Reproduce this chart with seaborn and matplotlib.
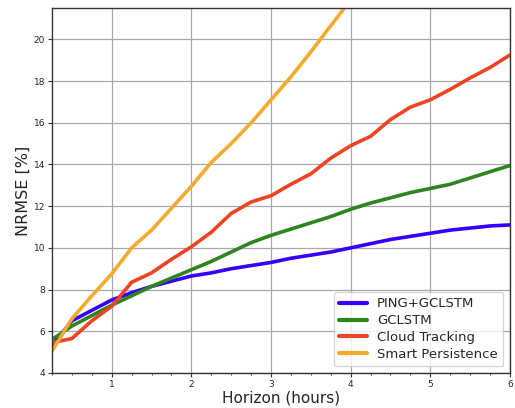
import matplotlib
matplotlib.use("Agg")
import matplotlib.pyplot as plt
from matplotlib.ticker import MultipleLocator
import seaborn as sns
import pandas as pd

horizon = [0.25, 0.5, 0.75, 1.0, 1.25, 1.5, 1.75, 2.0, 2.25, 2.5, 2.75, 3.0,
           3.25, 3.5, 3.75, 4.0, 4.25, 4.5, 4.75, 5.0, 5.25, 5.5, 5.75, 6.0]

ping_gclstm = [5.3, 6.5, 7.0, 7.5, 7.85, 8.15, 8.4, 8.65, 8.8, 9.0, 9.15, 9.3,
               9.5, 9.65, 9.8, 10.0, 10.2, 10.4, 10.55, 10.7, 10.85, 10.95, 11.05, 11.1]
gclstm = [5.6, 6.25, 6.75, 7.25, 7.7, 8.15, 8.55, 8.95, 9.35, 9.8, 10.25, 10.6,
          10.9, 11.2, 11.5, 11.85, 12.15, 12.4, 12.65, 12.85, 13.05, 13.35, 13.65, 13.95]
cloud_tracking = [5.45, 5.65, 6.5, 7.2, 8.35, 8.8, 9.45, 10.05, 10.75, 11.65, 12.2, 12.5,
                  13.05, 13.55, 14.3, 14.9, 15.35, 16.15, 16.75, 17.1, 17.6, 18.15, 18.65, 19.25]
smart_persistence = [5.05, 6.6, 7.7, 8.75, 10.0, 10.85, 11.9, 12.95, 14.1, 15.0, 16.0, 17.1,
                     18.2, 19.4, 20.65, 21.9]

models = ["PING+GCLSTM", "GCLSTM", "Cloud Tracking", "Smart Persistence"]
series = [ping_gclstm, gclstm, cloud_tracking, smart_persistence]
colors = ["#3300ff", "#2e8520", "#ec4425", "#f2ab2c"]

rows = []
for name, vals in zip(models, series):
    for h, v in zip(horizon, vals):
        rows.append({"Horizon": h, "NRMSE": v, "model": name})
df = pd.DataFrame(rows)

sns.set_style("white")
fig = plt.figure(figsize=(5.15, 4.08), dpi=100)
ax = fig.add_axes([0.101, 0.086, 0.889, 0.894])

sns.lineplot(data=df, x="Horizon", y="NRMSE", hue="model", hue_order=models,
             palette=colors, linewidth=2.6, ax=ax)

ax.set_xlim(0.25, 6)
ax.set_ylim(4, 21.5)
ax.set_xticks([1, 2, 3, 4, 5, 6])
ax.set_yticks([4, 6, 8, 10, 12, 14, 16, 18, 20])
ax.xaxis.set_minor_locator(MultipleLocator(0.25))
ax.tick_params(axis="both", which="major", labelsize=6.5, length=3, pad=2,
               color="#333333", direction="out", bottom=True, left=True)
ax.tick_params(axis="x", which="minor", length=1.5, bottom=True)
ax.grid(True, which="major", color="#a8a8a8", linewidth=0.9)
for s in ax.spines.values():
    s.set_color("#333333")
    s.set_linewidth(1.0)

ax.set_xlabel("Horizon (hours)", fontsize=11, labelpad=1)
ax.set_ylabel("NRMSE [%]", fontsize=11.5, labelpad=2)

leg = ax.legend(loc="lower right", fontsize=9.5, frameon=True, handlelength=2.1,
                labelspacing=0.3, borderpad=0.4)
for line in leg.get_lines():
    line.set_linewidth(3)

fig.savefig("out.png", dpi=100)
